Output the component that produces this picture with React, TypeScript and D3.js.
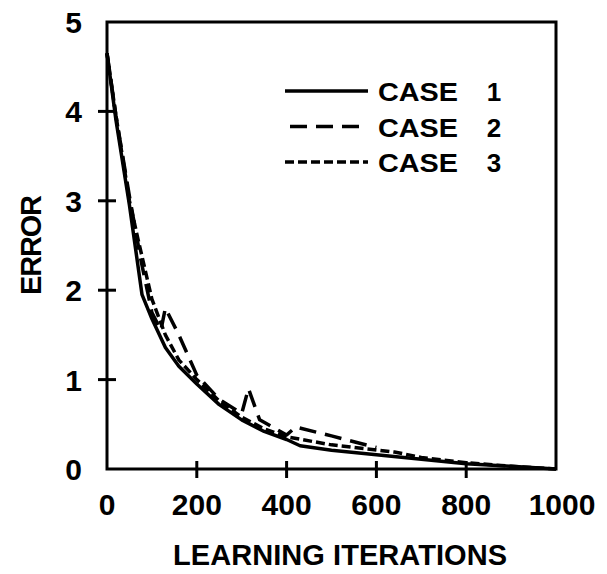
import React from "react";
import * as d3 from "d3";

// learning curves: [iteration, error]
const case1: [number, number][] = [
  [0, 4.65], [20, 3.9], [50, 2.95], [78, 1.95], [100, 1.68], [130, 1.36],
  [160, 1.15], [200, 0.95], [250, 0.72], [300, 0.55], [350, 0.42],
  [400, 0.33], [430, 0.26], [500, 0.21], [600, 0.16], [700, 0.11],
  [800, 0.06], [900, 0.03], [1000, 0],
];
const case2: [number, number][] = [
  [0, 4.65], [20, 3.95], [50, 3.05], [75, 2.35], [100, 1.75], [120, 1.55],
  [130, 1.8], [160, 1.5], [200, 1.05], [250, 0.78], [300, 0.62],
  [315, 0.9], [340, 0.55], [400, 0.38], [420, 0.47], [500, 0.37],
  [600, 0.24],
];
const case3: [number, number][] = [
  [0, 4.65], [20, 3.95], [50, 3.0], [70, 2.55], [100, 1.9], [130, 1.5],
  [160, 1.22], [200, 1.0], [250, 0.76], [300, 0.58], [350, 0.45],
  [400, 0.36], [500, 0.27], [640, 0.19], [700, 0.13], [800, 0.07],
  [900, 0.03], [1000, 0],
];

const xTicks = [0, 200, 400, 600, 800, 1000];
const yTicks = [0, 1, 2, 3, 4, 5];
const legendNames = ["CASE", "CASE", "CASE"];
const legendNums = ["1", "2", "3"];
const dashes = ["none", "17 9", "9 4"];

const W = 607;
const H = 574;
const left = 107;
const right = 556;
const top = 22;
const bottom = 469;
const font = "'Liberation Sans', Arial, sans-serif";

const App = () => {
  const x = d3.scaleLinear().domain([0, 1000]).range([left, right]);
  const y = d3.scaleLinear().domain([0, 5]).range([bottom, top]);
  const line = d3
    .line<[number, number]>()
    .x((d) => x(d[0]))
    .y((d) => y(d[1]));

  const series = [case1, case2, case3];

  return (
    <svg
      width={W}
      height={H}
      style={{ position: "absolute", left: 0, top: 0, background: "#fff" }}
    >
      {/* frame */}
      <path
        d={`M${left},${bottom}L${left},${top}L${right},${top}L${right},${bottom}Z`}
        fill="none"
        stroke="#000"
        strokeWidth={3}
      />
      {/* ticks, crossing the axes */}
      {xTicks.slice(1, -1).map((t) => (
        <line key={"xt" + t} x1={x(t)} x2={x(t)} y1={bottom - 8} y2={bottom + 9} stroke="#000" strokeWidth={3} />
      ))}
      {yTicks.slice(1, -1).map((t) => (
        <line key={"yt" + t} x1={left - 9} x2={left + 9} y1={y(t)} y2={y(t)} stroke="#000" strokeWidth={3} />
      ))}
      {/* tick labels */}
      {xTicks.map((t) => (
        <text key={"xl" + t} x={x(t) + (t === 1000 ? 6 : 0)} y={515} textAnchor="middle" fontFamily={font} fontWeight="bold" fontSize={30}>
          {t}
        </text>
      ))}
      {yTicks.map((t) => (
        <text key={"yl" + t} x={82} y={y(t) + 11} textAnchor="end" fontFamily={font} fontWeight="bold" fontSize={30}>
          {t}
        </text>
      ))}
      {/* axis titles */}
      <text x={340} y={565} textAnchor="middle" fontFamily={font} fontWeight="bold" fontSize={29} textLength={334}>
        LEARNING ITERATIONS
      </text>
      <text
        transform="translate(41,245) rotate(-90)"
        textAnchor="middle"
        fontFamily={font}
        fontWeight="bold"
        fontSize={29}
        textLength={100}
      >
        ERROR
      </text>
      {/* curves */}
      {series.map((s, i) => (
        <path
          key={"c" + i}
          d={line(s) || ""}
          fill="none"
          stroke="#000"
          strokeWidth={3.5}
          strokeDasharray={dashes[i]}
          strokeLinejoin="round"
        />
      ))}
      {/* legend */}
      {legendNames.map((l, i) => (
        <g key={"lg" + i} transform={`translate(0,${91 + i * 35.5})`}>
          <line x1={i === 1 ? 290 : 285} x2={368} y1={0} y2={0} stroke="#000" strokeWidth={3.5} strokeDasharray={dashes[i]} />
          <text x={378} y={10} fontFamily={font} fontWeight="bold" fontSize={26} textLength={80} lengthAdjust="spacingAndGlyphs">
            {l}
          </text>
          <text x={494} y={10} textAnchor="middle" fontFamily={font} fontWeight="bold" fontSize={26}>
            {legendNums[i]}
          </text>
        </g>
      ))}
    </svg>
  );
};

export default App;
